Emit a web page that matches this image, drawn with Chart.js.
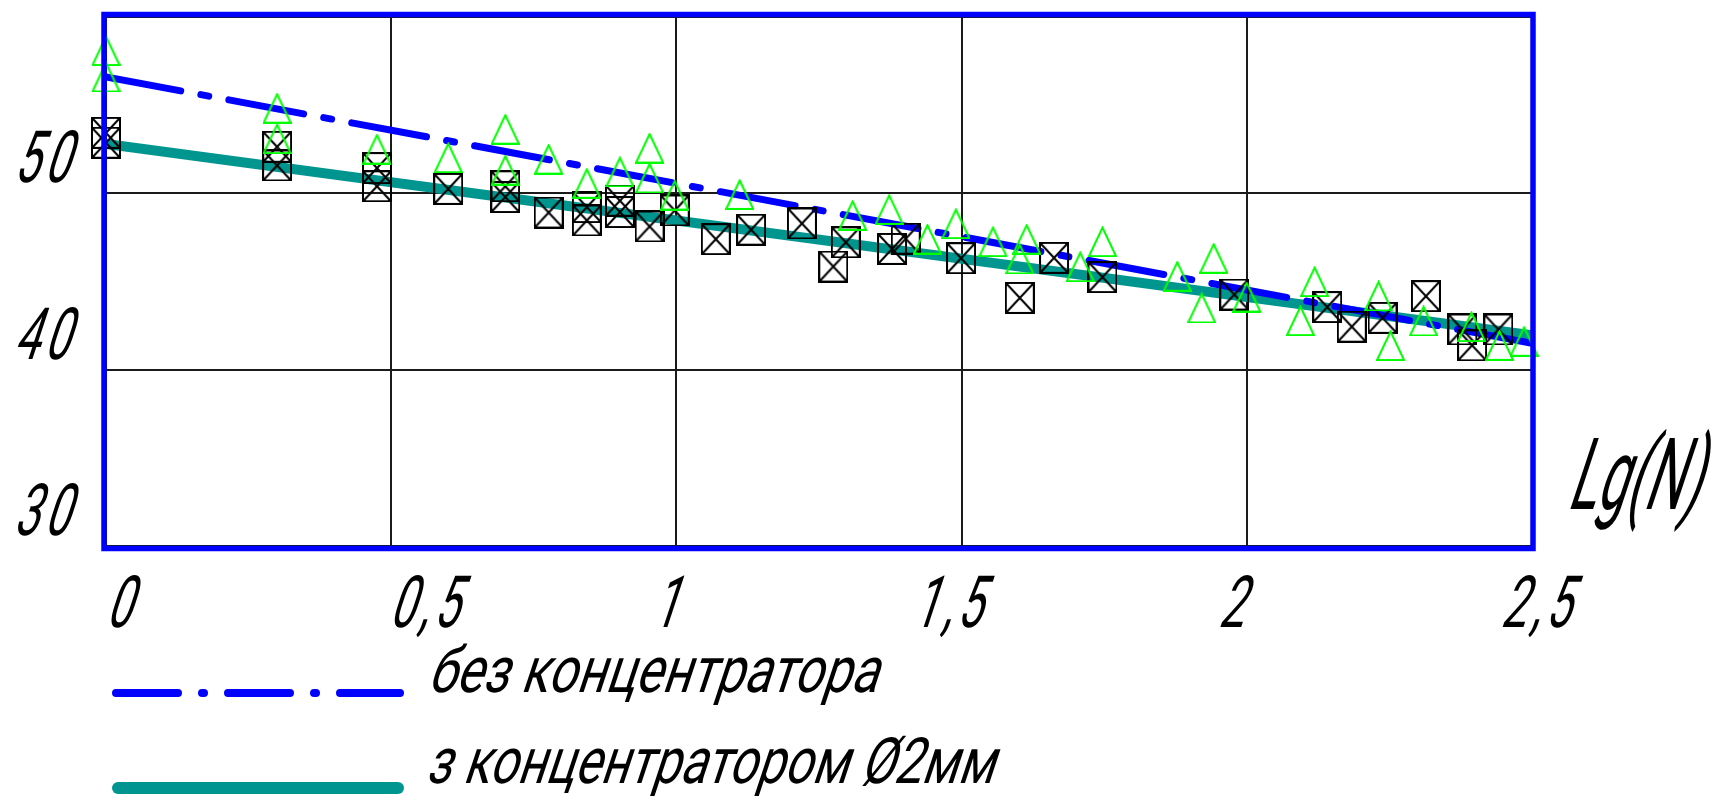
<!DOCTYPE html>
<html>
<head>
<meta charset="utf-8">
<script src="https://cdn.jsdelivr.net/npm/chart.js@4/dist/chart.umd.min.js"></script>
<style>
  html, body { margin: 0; padding: 0; background: #fff; }
  canvas { display: block; }
</style>
</head>
<body>
<canvas id="chart" width="1722" height="800"></canvas>
<script>
// Measured points, Lg(N) on x
const withoutX = [0, 0, 0.30, 0.30, 0.475, 0.60, 0.70, 0.70, 0.776, 0.843, 0.901, 0.953, 0.953, 0.997,
  1.111, 1.309, 1.373, 1.44, 1.49, 1.555, 1.602, 1.614, 1.708, 1.747, 1.878, 1.921, 1.942, 2.0,
  2.094, 2.119, 2.231, 2.252, 2.31, 2.394, 2.443, 2.486];
const withoutY = [58.1, 56.6, 54.83, 53.1, 52.51, 52.02, 53.64, 51.32, 51.94, 50.57, 51.22, 52.57, 50.87, 49.9,
  49.94, 48.75, 49.09, 47.4, 48.28, 47.26, 46.28, 47.4, 45.84, 47.26, 45.3, 43.5, 46.32, 44.12,
  42.78, 44.99, 44.18, 41.37, 42.76, 42.44, 41.38, 41.61];

const withX = [0, 0, 0.30, 0.30, 0.475, 0.475, 0.60, 0.70, 0.70, 0.776, 0.843, 0.843, 0.901, 0.901, 0.953, 0.997,
  1.069, 1.131, 1.22, 1.275, 1.297, 1.378, 1.402, 1.499, 1.602, 1.662, 1.747, 1.978,
  2.141, 2.184, 2.238, 2.314, 2.378, 2.395, 2.441];
const withY = [53.43, 52.87, 52.64, 51.58, 51.43, 50.4, 50.25, 50.4, 49.79, 48.91, 49.22, 48.46, 49.58, 48.94, 48.12, 49.03,
  47.4, 47.94, 48.29, 45.85, 47.22, 46.85, 47.43, 46.32, 44.07, 46.34, 45.25, 44.26,
  43.55, 42.44, 42.94, 44.17, 42.28, 41.38, 42.28];

// Fitted trend lines
const fitX = [0, 2.5];
const fitWithoutY = [56.6, 41.5];
const fitWithY = [52.8, 41.95];

// Axis ranges and tick steps
const xRange = [0, 2.5];
const yRange = [30, 60];
const xStep = 0.5;
const yStep = 10;

// Texts
const seriesNames = ['без концентратора', 'з концентратором Ø2мм'];
const xAxisTitle = 'Lg(N)';

// Drafting-style lettering: upright face, narrowed and slanted
const FAMILY = 'Roboto, "DejaVu Sans", sans-serif';
const WEIGHT = 400;
const SLANT = 0.33;
const TICK_FONT = 72;
const TICK_SQUEEZE = 0.62;
const TICK_SPACING = 5;
// hand-placed nudges of the x tick labels (px, from each tick)
const xLabelNudge = [20, 40, -4, -7, -8, 11];

const BLUE = '#0000ff';
const TEAL = '#00968f';
const GREEN = '#00ff00';
const DASH_DOT = [76, 20.5, 8, 20.5];

const toPoints = (xs, ys) => xs.map((x, i) => ({ x, y: ys[i] }));
const fmtTick = v => String(v).replace('.', ',');

function boxMarker(w, h) {
  const c = document.createElement('canvas');
  c.width = w; c.height = h;
  const g = c.getContext('2d');
  g.strokeStyle = '#000';
  g.lineWidth = 2;
  g.strokeRect(1, 1, w - 2, h - 2);
  g.beginPath();
  g.moveTo(1, 1); g.lineTo(w - 1, h - 1);
  g.moveTo(w - 1, 1); g.lineTo(1, h - 1);
  g.stroke();
  return c;
}

function triangleMarker(w, h) {
  const c = document.createElement('canvas');
  c.width = w; c.height = h;
  const g = c.getContext('2d');
  g.strokeStyle = GREEN;
  g.lineWidth = 2;
  g.beginPath();
  g.moveTo(w / 2, 1.5);
  g.lineTo(w - 1, h - 1);
  g.lineTo(1, h - 1);
  g.closePath();
  g.stroke();
  return c;
}

// x, y: baseline anchor; width: fit advance width, otherwise squeeze factor k
function drawText(ctx, text, x, y, size, align, opt) {
  ctx.save();
  ctx.font = WEIGHT + ' ' + size + 'px ' + FAMILY;
  const sp = opt.spacing ? opt.spacing / (opt.k || 1) : 0;
  if (sp) ctx.letterSpacing = sp + 'px';
  ctx.fillStyle = '#000';
  ctx.textBaseline = 'alphabetic';
  ctx.textAlign = 'left';
  const w = ctx.measureText(text).width - sp;
  const k = opt.width ? opt.width / w : opt.k;
  const drawn = w * k;
  let x0 = x;
  if (align === 'center') x0 = x - drawn / 2 - size * 0.71 * SLANT / 2;
  else if (align === 'right') x0 = x - drawn;
  ctx.transform(k, 0, -SLANT, 1, x0, y);
  ctx.fillText(text, 0, 0);
  ctx.restore();
}

const framePlugin = {
  id: 'frame',
  afterDatasetsDraw(chart) {
    const { ctx, chartArea: a } = chart;
    ctx.save();
    ctx.strokeStyle = BLUE;
    ctx.lineWidth = 5.5;
    ctx.lineJoin = 'miter';
    ctx.strokeRect(a.left - 2, a.top - 2.5, a.right - a.left + 3, a.bottom - a.top + 5);
    ctx.restore();
  },
  afterDraw(chart) {
    const { ctx } = chart;
    const xs = chart.scales.x;
    const ys = chart.scales.y;
    const tickOpt = { k: TICK_SQUEEZE, spacing: TICK_SPACING };

    // tick labels
    xs.ticks.forEach((t, i) => {
      drawText(ctx, fmtTick(t.value), xs.getPixelForValue(t.value) + (xLabelNudge[i] || 0), 627,
        TICK_FONT, 'center', tickOpt);
    });
    ys.ticks.forEach(t => {
      if (t.value >= yRange[1]) return;
      drawText(ctx, fmtTick(t.value), 68, ys.getPixelForValue(t.value) - 11, TICK_FONT, 'right', tickOpt);
    });

    // axis title
    drawText(ctx, xAxisTitle, 1566, 509, 100, 'left', { width: 132 });

    // legend
    ctx.save();
    ctx.lineCap = 'round';
    ctx.strokeStyle = BLUE;
    ctx.lineWidth = 8;
    ctx.setLineDash([62, 24, 2, 24]);
    ctx.beginPath();
    ctx.moveTo(116, 693);
    ctx.lineTo(400, 693);
    ctx.stroke();
    ctx.setLineDash([]);
    ctx.strokeStyle = TEAL;
    ctx.lineWidth = 12;
    ctx.beginPath();
    ctx.moveTo(118, 788);
    ctx.lineTo(398, 788);
    ctx.stroke();
    ctx.restore();
    drawText(ctx, seriesNames[0], 427, 692, 64, 'left', { width: 450 });
    drawText(ctx, seriesNames[1], 425, 783, 64, 'left', { width: 568 });
  }
};

new Chart(document.getElementById('chart'), {
  type: 'scatter',
  data: {
    datasets: [
      {
        label: seriesNames[0] + ' (точки)',
        data: toPoints(withoutX, withoutY),
        pointStyle: triangleMarker(29, 31),
        pointRadius: 14,
        showLine: false,
        clip: false,
        order: 0
      },
      {
        label: seriesNames[1] + ' (точки)',
        data: toPoints(withX, withY),
        pointStyle: boxMarker(30, 32),
        pointRadius: 14,
        showLine: false,
        clip: false,
        order: 0
      },
      {
        type: 'line',
        label: seriesNames[0],
        data: toPoints(fitX, fitWithoutY),
        borderColor: BLUE,
        borderWidth: 7,
        borderDash: DASH_DOT,
        borderCapStyle: 'round',
        pointRadius: 0,
        fill: false,
        order: 1
      },
      {
        type: 'line',
        label: seriesNames[1],
        data: toPoints(fitX, fitWithY),
        borderColor: TEAL,
        borderWidth: 10,
        borderCapStyle: 'butt',
        pointRadius: 0,
        fill: false,
        order: 2
      }
    ]
  },
  options: {
    responsive: false,
    animation: false,
    devicePixelRatio: 1,
    events: [],
    layout: { padding: { top: 17, right: 190, left: 0, bottom: 0 } },
    plugins: { legend: { display: false }, tooltip: { enabled: false } },
    scales: {
      x: {
        type: 'linear',
        min: xRange[0], max: xRange[1],
        afterFit(s) { s.height = 254; s.paddingLeft = 0; s.paddingRight = 0; },
        border: { display: false },
        grid: { color: '#1a1a1a', lineWidth: 2, drawTicks: false },
        ticks: { stepSize: xStep, autoSkip: false, display: false }
      },
      y: {
        type: 'linear',
        min: yRange[0], max: yRange[1],
        afterFit(s) { s.width = 106; s.paddingTop = 0; s.paddingBottom = 0; },
        border: { display: false },
        grid: { color: '#1a1a1a', lineWidth: 2, drawTicks: false },
        ticks: { stepSize: yStep, display: false }
      }
    }
  },
  plugins: [framePlugin]
});
</script>
</body>
</html>
